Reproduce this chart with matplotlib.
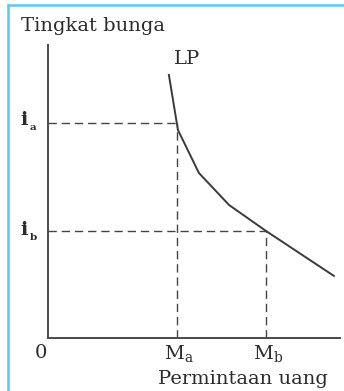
import matplotlib
matplotlib.use("Agg")
import matplotlib.pyplot as plt
from matplotlib.lines import Line2D

plt.rcParams['font.family'] = 'DejaVu Serif'
plt.rcParams['mathtext.fontset'] = 'custom'
plt.rcParams['mathtext.rm'] = 'DejaVu Serif'
plt.rcParams['mathtext.it'] = 'DejaVu Serif'

# kurva LP (permintaan uang)
lp_x = [4.14, 4.45, 5.17, 6.20, 7.47, 9.79]
lp_y = [8.98, 7.10, 5.63, 4.54, 3.65, 2.12]

# titik acuan
m_a, m_b = 4.42, 7.47
i_a, i_b = 7.34, 3.65

W, H = 344, 391
txt = '#2b2b2b'
axc = '#4a4a4a'
fs = 14


def px(x, y):
    return x / W, 1 - y / H


fig = plt.figure(figsize=(W / 100, H / 100), dpi=100)
ax = fig.add_axes([48 / W, (H - 338) / H, 292 / W, 293 / H])
ax.set_xlim(0, 10)
ax.set_ylim(0, 10)
for s in ['top', 'right']:
    ax.spines[s].set_visible(False)
for s in ['left', 'bottom']:
    ax.spines[s].set_color(axc)
    ax.spines[s].set_linewidth(1.4)
ax.set_xticks([])
ax.set_yticks([])

ax.plot(lp_x, lp_y, color='#3a3a3a', lw=1.4, solid_joinstyle='miter')

dash = dict(color='#444444', lw=1.0, dashes=(6, 3.5))
ax.plot([0, m_a], [i_a, i_a], **dash)
ax.plot([m_a, m_a], [0, i_a], **dash)
ax.plot([0, m_b], [i_b, i_b], **dash)
ax.plot([m_b, m_b], [0, i_b], **dash)

# bingkai biru
fig.add_artist(Line2D([8 / W, 1], [1 - 5 / H, 1 - 5 / H], color='#5ac8f5', lw=1.8))
fig.add_artist(Line2D([8 / W, 8 / W], [0, 1 - 5 / H], color='#5ac8f5', lw=1.8))

fig.text(*px(21, 26), 'Tingkat bunga', fontsize=fs, color=txt, ha='left', va='center')
fig.text(*px(187, 59), 'LP', fontsize=fs, color=txt, ha='center', va='center')
fig.text(*px(24, 120), 'i', fontsize=fs, color=txt, ha='center', va='center', weight='bold')
fig.text(*px(33, 127), 'a', fontsize=7.5, color=txt, ha='center', va='center', weight='bold')
fig.text(*px(24, 230), 'i', fontsize=fs, color=txt, ha='center', va='center', weight='bold')
fig.text(*px(33, 237), 'b', fontsize=7.5, color=txt, ha='center', va='center', weight='bold')
fig.text(*px(41, 353), '0', fontsize=fs, color=txt, ha='center', va='center')
fig.text(*px(179, 353), r'M$_\mathrm{a}$', fontsize=fs, color=txt, ha='center', va='center')
fig.text(*px(268, 353), r'M$_\mathrm{b}$', fontsize=fs, color=txt, ha='center', va='center')
fig.text(*px(243, 379), 'Permintaan uang', fontsize=fs, color=txt, ha='center', va='center')

fig.savefig('out.png', dpi=100)
